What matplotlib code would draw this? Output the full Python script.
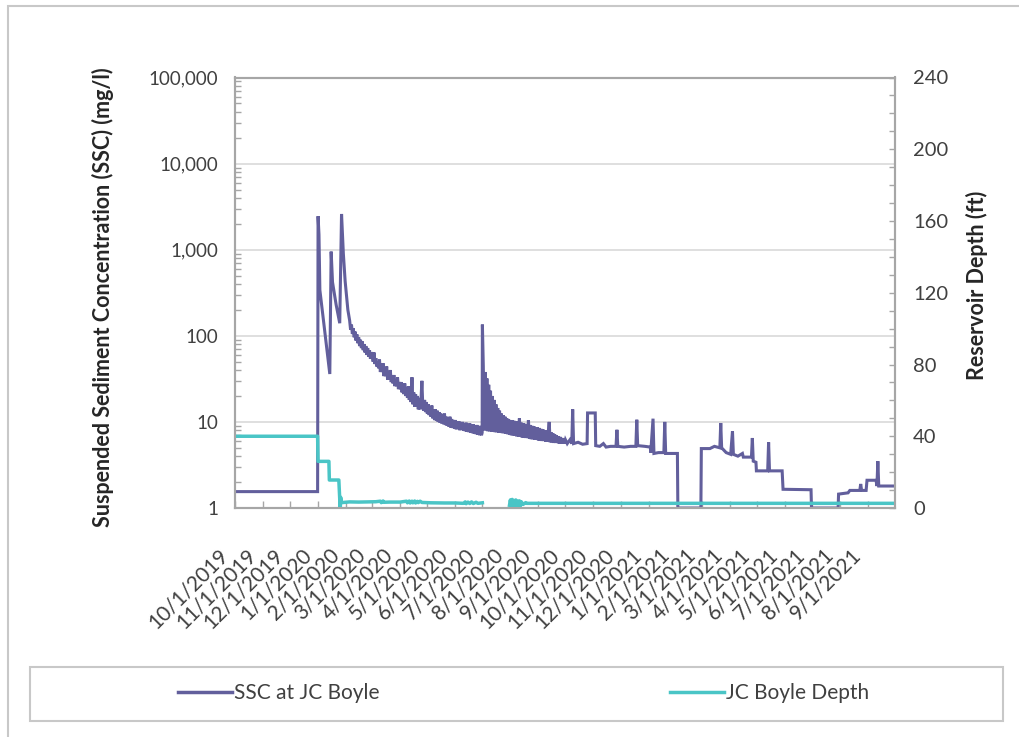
import numpy as np
import pandas as pd
import matplotlib
matplotlib.use("Agg")
import matplotlib.pyplot as plt
import matplotlib.dates as mdates
from matplotlib.transforms import ScaledTranslation, blended_transform_factory
from matplotlib.lines import Line2D
from matplotlib.patches import Rectangle
from matplotlib.ticker import FixedLocator, NullFormatter, MultipleLocator

plt.rcParams['font.family'] = ['Lato', 'DejaVu Sans']

# ---------------- data ----------------
# SSC before / during the Jan 2020 drawdown peaks
ssc_event_dates = [
    "2019-10-01", "2019-12-31 12:00", "2020-01-01", "2020-01-02", "2020-01-03", "2020-01-14",
    "2020-01-15 12:00", "2020-01-17", "2020-01-21", "2020-01-25", "2020-01-27", "2020-01-29",
    "2020-01-31", "2020-02-03",
]
ssc_event_values = [
    1.55, 1.55, 2450, 1500, 340, 36,
    950, 420, 230, 140, 2600, 900,
    430, 200,
]

# daily SSC readings, 2020-02-05 .. 2020-06-30
ssc_daily1_start = "2020-02-05"
ssc_daily1_values = [
    150, 118, 135, 105, 122, 96, 112, 88, 104, 82, 96, 76, 90, 72, 86, 68, 80, 64, 76, 60,
    72, 57, 68, 54, 64,
    61, 50, 64, 47, 55, 44, 50, 42, 53, 38, 46, 38, 48, 34, 42, 34, 44, 31, 38, 31,
    40, 29, 34, 28, 35, 26, 31, 26, 33, 24, 29,
    24, 29, 22, 27, 21, 28, 20, 25, 19, 26, 18, 23, 17, 33, 16, 22, 15, 21, 15, 20,
    14, 19, 14, 18, 30, 15, 13.5, 18, 13, 17,
    12.5, 16, 12, 15, 11.5, 15.5, 11, 14, 10.5, 14, 10.4, 13.5, 10, 13, 9.8, 12.5,
    9.6, 12, 9.4, 12.5, 9.2, 11.5, 9, 11, 8.8, 11.5, 8.6, 10.8, 8.5, 10.5, 8.4,
    10.5, 8.2, 10, 8.3, 10.2, 8, 9.8, 8.1, 10, 7.9, 9.6, 7.8, 9.8, 7.7, 9.4, 7.6,
    9.6, 7.5, 9.2, 7.4, 9.4, 7.3, 9.0, 7.2, 9.2, 7.1, 8.8, 7.0, 9.0, 7.0,
]

# July 2020 spike
ssc_spike_dates = ["2020-06-30 18:00", "2020-07-01"]
ssc_spike_values = [7.5, 135]

# daily SSC readings, 2020-07-02 .. 2020-09-30
ssc_daily2_start = "2020-07-02"
ssc_daily2_values = [
    45, 8, 38, 8, 32, 7.8, 27, 7.8, 23, 7.7, 20, 7.7, 18, 7.6, 16, 7.6, 14.5, 7.5, 13.5, 7.5,
    12.5, 7.4, 12, 7.4, 11.5, 7.3, 11, 7.2, 10.8, 7.1,
    10.5, 7, 10.5, 7, 10.3, 6.9, 10.2, 6.8, 10, 6.8, 11, 6.7, 9.8, 6.6, 9.6, 6.6,
    9.5, 6.5, 9.4, 6.5, 10.5, 6.4, 9.2, 6.3, 9, 6.3, 8.9, 6.2, 8.7, 6.2, 8.6,
    6.1, 8.5, 6.1, 8.3, 6.0, 8.2, 6.0, 8.0, 5.9, 7.9, 5.9, 7.8, 10, 5.8, 7.6,
    5.8, 7.4, 5.7, 7.2, 5.7, 7.0, 5.7, 6.8, 5.6, 6.7, 5.6, 6.5, 5.6, 6.4, 5.6,
]

# SSC from October 2020 on
ssc_late_dates = [
    "2020-10-01", "2020-10-03", "2020-10-06", "2020-10-08",
    "2020-10-09", "2020-10-10", "2020-10-15", "2020-10-20", "2020-10-25", "2020-10-25 12:00",
    "2020-11-03", "2020-11-03 12:00", "2020-11-08", "2020-11-12", "2020-11-15", "2020-11-20",
    "2020-11-26", "2020-11-27", "2020-11-28", "2020-12-05", "2020-12-12", "2020-12-18",
    "2020-12-19", "2020-12-20", "2020-12-28", "2021-01-03", "2021-01-03 12:00", "2021-01-06",
    "2021-01-07", "2021-01-12", "2021-01-18", "2021-01-19", "2021-01-20", "2021-02-02",
    "2021-02-02 12:00", "2021-02-28", "2021-02-28 12:00", "2021-03-10", "2021-03-15", "2021-03-21",
    "2021-03-22", "2021-03-23", "2021-03-28", "2021-04-02", "2021-04-04", "2021-04-05",
    "2021-04-10", "2021-04-15", "2021-04-16", "2021-04-25", "2021-04-26", "2021-04-27",
    "2021-04-30", "2021-04-30 12:00", "2021-05-13", "2021-05-14", "2021-05-15", "2021-05-29",
    "2021-05-30", "2021-06-30", "2021-06-30 12:00", "2021-07-30", "2021-07-30 12:00", "2021-08-10",
    "2021-08-12", "2021-08-23", "2021-08-24", "2021-08-25", "2021-08-30", "2021-08-31",
    "2021-09-10", "2021-09-11", "2021-09-12", "2021-09-13", "2021-09-30",
]
ssc_late_values = [
    6.2, 5.6, 6.2, 5.6,
    14, 5.6, 5.8, 5.5, 5.6, 12.7,
    12.7, 5.3, 5.2, 5.6, 5.1, 5.2,
    5.2, 8.1, 5.2, 5.1, 5.2, 5.2,
    10.6, 5.3, 5.2, 5.1, 4.4, 10.9,
    4.3, 4.4, 4.4, 10, 4.3, 4.3,
    1.0, 1.0, 4.9, 4.9, 5.2, 5.0,
    9.7, 5.0, 4.4, 4.2, 7.8, 4.2,
    4.0, 4.3, 3.9, 3.9, 6.5, 3.5,
    3.4, 2.7, 2.7, 5.8, 2.7, 2.7,
    1.65, 1.63, 1.0, 1.0, 1.45, 1.5,
    1.6, 1.6, 1.9, 1.6, 1.6, 2.1,
    2.1, 1.8, 3.5, 1.8, 1.8,
]

depth_dates = [
    "2019-10-01", "2019-12-31 12:00", "2020-01-01", "2020-01-13", "2020-01-13 12:00", "2020-01-24",
    "2020-01-25", "2020-01-25 12:00", "2020-01-26", "2020-01-27", "2020-02-05", "2020-02-15",
    "2020-02-25", "2020-03-05", "2020-03-10", "2020-03-11", "2020-03-13", "2020-03-14",
    "2020-03-20", "2020-04-01", "2020-04-08", "2020-04-09", "2020-04-11", "2020-04-12",
    "2020-04-14", "2020-04-15", "2020-04-17", "2020-04-18", "2020-04-20", "2020-04-21",
    "2020-04-23", "2020-04-25", "2020-05-05", "2020-05-20", "2020-06-01", "2020-06-10",
    "2020-06-12", "2020-06-13", "2020-06-15", "2020-06-17", "2020-06-19", "2020-06-21",
    "2020-06-24", "2020-06-26", "2020-07-01", "2020-07-02", "2020-07-31", "2020-08-01",
    "2020-08-02", "2020-08-03", "2020-08-04", "2020-08-05", "2020-08-06", "2020-08-07",
    "2020-08-08", "2020-08-09", "2020-08-10", "2020-08-11", "2020-08-12", "2020-08-13",
    "2020-08-15", "2020-08-18", "2020-08-19", "2021-09-30",
]
depth_values = [
    40, 40, 26, 26, 15.6, 15.6,
    5, -2, 6, 3.0, 3.4, 3.3,
    3.4, 3.5, 3.8, 3.0, 3.9, 3.2,
    3.3, 3.3, 3.8, 2.9, 3.9, 2.8,
    3.8, 2.9, 3.9, 2.8, 3.7, 3.0,
    3.8, 3.1, 2.9, 2.8, 2.8, 2.6,
    3.4, 2.4, 3.3, 2.5, 3.4, 2.5,
    3.2, 2.6, 2.9, np.nan, 1.5, 4.5,
    0.5, 4.8, 1.0, 4.2, 0.0, 4.5,
    1.5, 3.8, -1.0, 4.0, 1.0, 3.5,
    2.0, 3.0, 2.6, 2.6,
]

month_ticks = pd.date_range("2019-10-01", "2021-09-01", freq="MS")
month_labels = [f"{d.month}/1/{d.year}" for d in month_ticks]
ssc_ticks = [1, 10, 100, 1000, 10000, 100000]
ssc_tick_labels = ["1", "10", "100", "1,000", "10,000", "100,000"]
depth_ticks = [0, 40, 80, 120, 160, 200, 240]

# assemble SSC series
ssc_x = list(pd.to_datetime(ssc_event_dates, format="mixed"))
ssc_y = list(ssc_event_values)
ssc_x += list(pd.date_range(ssc_daily1_start, periods=len(ssc_daily1_values), freq="D"))
ssc_y += ssc_daily1_values
ssc_x += list(pd.to_datetime(ssc_spike_dates, format="mixed"))
ssc_y += ssc_spike_values
ssc_x += list(pd.date_range(ssc_daily2_start, periods=len(ssc_daily2_values), freq="D"))
ssc_y += ssc_daily2_values
ssc_x += list(pd.to_datetime(ssc_late_dates, format="mixed"))
ssc_y += ssc_late_values

# ---------------- figure ----------------
W, H = 1019, 737
fig = plt.figure(figsize=(W / 100, H / 100), dpi=100)
fig.patch.set_facecolor("white")

def px(x, y):
    return x / W, 1 - y / H

# outer chart border (only top & left visible)
fig.add_artist(Rectangle(px(8, 745), (1030 - 8) / W, (745 - 6) / H,
                         transform=fig.transFigure, fill=False,
                         edgecolor="#C8C8C8", lw=1.5))

L, R, T, B = 235, 895, 77.5, 508
ax = fig.add_axes([L / W, 1 - B / H, (R - L) / W, (B - T) / H])
ax2 = ax.twinx()

ssc_color = "#625F9C"
depth_color = "#4AC5C6"
spine_color = "#A6A6A6"
text_color = "#404040"

ax.plot(ssc_x, ssc_y, color=ssc_color, lw=2.2, solid_joinstyle="miter")
ax2.plot(pd.to_datetime(depth_dates, format="mixed"), depth_values, color=depth_color, lw=2.5)

ax.set_yscale("log")
ax.set_ylim(1, 100000)
ax2.set_ylim(0, 240)
ax.set_xlim(pd.Timestamp("2019-10-01"), pd.Timestamp("2021-10-01"))

# y left ticks
ax.yaxis.set_major_locator(FixedLocator(ssc_ticks))
ax.set_yticklabels(ssc_tick_labels)
ax.yaxis.set_minor_locator(matplotlib.ticker.LogLocator(base=10, subs=np.arange(2, 10)))
ax.yaxis.set_minor_formatter(NullFormatter())
ax.tick_params(axis="y", which="major", direction="in", length=0, pad=12,
               labelsize=13.5, labelcolor=text_color, colors=spine_color)
ax.tick_params(axis="y", which="minor", direction="in", length=4, width=1, colors=spine_color)
ax.grid(axis="y", which="major", color="#D9D9D9", lw=1.2)

# right ticks
ax2.yaxis.set_major_locator(FixedLocator(depth_ticks))
ax2.yaxis.set_minor_locator(MultipleLocator(10))
ax2.tick_params(axis="y", which="major", direction="in", length=4, width=1, pad=13,
                labelsize=14.5, labelcolor=text_color, colors=spine_color)
ax2.tick_params(axis="y", which="minor", direction="in", length=4, width=1, colors=spine_color)

# x ticks
ax.xaxis.set_major_locator(FixedLocator(mdates.date2num(month_ticks)))
ax.xaxis.set_minor_locator(FixedLocator([]))
ax.tick_params(axis="x", which="major", direction="in", length=5, width=1,
               colors=spine_color, labelbottom=False)
ax2.tick_params(axis="x", which="both", length=0, labelbottom=False)

for a in (ax, ax2):
    for s in a.spines.values():
        s.set_color(spine_color)
        s.set_linewidth(1.5)

# rotated date labels
btrans = blended_transform_factory(ax.transData, ax.transAxes)
off = ScaledTranslation(-17 / 100, -37 / 100, fig.dpi_scale_trans)
for d, lab in zip(month_ticks, month_labels):
    ax.text(mdates.date2num(d), 0, lab, transform=btrans + off, rotation=45,
            rotation_mode="anchor", ha="right", va="top", fontsize=15,
            color=text_color, clip_on=False)

# axis titles
fig.text(*px(103, 297), "Suspended Sediment Concentration (SSC) (mg/l)", rotation=90,
         ha="center", va="center", fontsize=15.5, fontweight="bold", color="#262626")
fig.text(*px(977, 285), "Reservoir Depth (ft)", rotation=90,
         ha="center", va="center", fontsize=15.5, fontweight="bold", color="#262626")

# legend box
fig.add_artist(Rectangle(px(30, 721), (1003 - 30) / W, (721 - 667) / H,
                         transform=fig.transFigure, fill=False,
                         edgecolor="#C8C8C8", lw=1.5))
h1 = Line2D([], [], color=ssc_color, lw=2.5)
h2 = Line2D([], [], color=depth_color, lw=2.5)
for h, lab, x0 in [(h1, "SSC at JC Boyle", 178), (h2, "JC Boyle Depth", 670)]:
    fig.legend(handles=[h], labels=[lab], loc="center left",
               bbox_to_anchor=px(x0, 693), frameon=False, fontsize=15,
               handlelength=2.6, handletextpad=0.1, borderpad=0, borderaxespad=0,
               labelcolor=text_color)

fig.savefig("out.png", dpi=100)
